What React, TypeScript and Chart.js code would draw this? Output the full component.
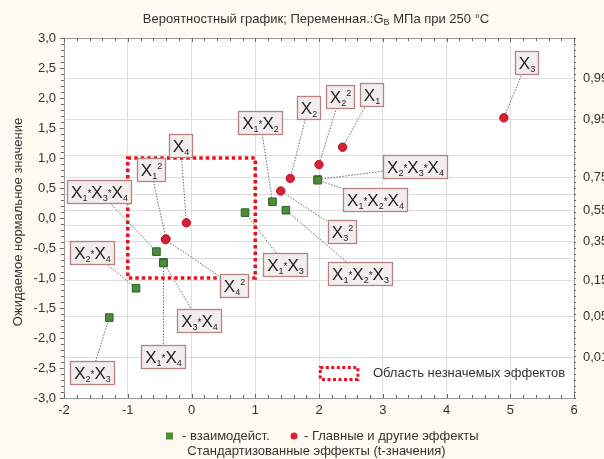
import React, { useEffect, useRef } from "react";
import { Chart, registerables } from "chart.js";

Chart.register(...registerables);

// ---------- texts ----------
const titleMain = "Вероятностный график; Переменная.:G";
const titleSub = "B";
const titleRest = " МПа при 250 °C";
const xAxisTitle = "Стандартизованные эффекты (t-значения)";
const yAxisTitle = "Ожидаемое нормальное значение";
const legendInteraction = "- взаимодейст.";
const legendMain = "- Главные и другие эффекты";
const regionLegend = "Область незначемых эффектов";

// ---------- axes ----------
const xMin = -2;
const xMax = 6;
const yMin = -3;
const yMax = 3;
const probLabels = [0.01, 0.05, 0.15, 0.35, 0.55, 0.75, 0.95, 0.99];
const probGrid = [0.01, 0.05, 0.15, 0.25, 0.35, 0.45, 0.55, 0.65, 0.75, 0.85, 0.95, 0.99];

// ---------- main & other effects (red circles) ----------
const mainNames = ["X_3", "X_1", "X_2^2", "X_2", "X_3^2", "X_4", "X_1^2", "X_4^2"];
const mainT = [4.9, 2.37, 2.0, 1.55, 1.4, -0.08, -0.4, -0.41];
const mainZ = [1.67, 1.18, 0.89, 0.66, 0.45, -0.08, -0.35, -0.36];
const mainLabelT = [5.26, 2.83, 2.33, 1.83, 2.36, -0.17, -0.64, 0.66];
const mainLabelZ = [2.6, 2.06, 2.03, 1.84, -0.22, 1.2, 0.81, -1.13];

// ---------- interactions (green squares) ----------
const interNames = [
  "X_2*X_3*X_4",
  "X_1*X_2*X_4",
  "X_1*X_2",
  "X_1*X_2*X_3",
  "X_1*X_3",
  "X_1*X_3*X_4",
  "X_3*X_4",
  "X_1*X_4",
  "X_2*X_4",
  "X_2*X_3",
];
const interT = [1.98, 1.98, 1.27, 1.48, 0.84, -0.55, -0.44, -0.44, -0.87, -1.29];
const interZ = [0.64, 0.63, 0.27, 0.13, 0.09, -0.56, -0.74, -0.75, -1.17, -1.66];
const interLabelT = [3.51, 2.88, 1.08, 2.64, 1.47, -1.45, 0.11, -0.44, -1.56, -1.56];
const interLabelZ = [0.85, 0.31, 1.6, -0.92, -0.78, 0.44, -1.71, -2.3, -0.57, -2.58];

// ---------- region of insignificant effects ----------
const regionT = [-1, 1];
const regionZ = [-1, 1];
const regionLegendT = [2.02, 2.61];
const regionLegendZ = [-2.49, -2.69];

// ---------- styles ----------
const CREAM = "#fdfaf1";
const FONT = '"Liberation Sans", Arial, sans-serif';
const TEXT = "#333333";
const GRID = "#dedede";
const RED = "#d91f34";
const RED_DARK = "#b3172a";
const GREEN = "#4d8a3c";
const GREEN_DARK = "#2f6626";
const REGION = "#e3141f";

// inverse of standard normal CDF (Acklam) - used for the probability axis
function probit(p: number): number {
  const a = [-39.6968302866538, 220.946098424521, -275.928510446969, 138.357751867269, -30.6647980661472, 2.50662827745924];
  const b = [-54.4760987982241, 161.585836858041, -155.698979859887, 66.8013118877197, -13.2806815528857];
  const c = [-0.00778489400243029, -0.322396458041136, -2.40075827716184, -2.54973253934373, 4.37466414146497, 2.93816398269878];
  const d = [0.00778469570904146, 0.32246712907004, 2.445134137143, 3.75440866190742];
  const pl = 0.02425;
  let q: number, r: number;
  if (p < pl) {
    q = Math.sqrt(-2 * Math.log(p));
    return (((((c[0] * q + c[1]) * q + c[2]) * q + c[3]) * q + c[4]) * q + c[5]) / ((((d[0] * q + d[1]) * q + d[2]) * q + d[3]) * q + 1);
  }
  if (p > 1 - pl) {
    q = Math.sqrt(-2 * Math.log(1 - p));
    return -(((((c[0] * q + c[1]) * q + c[2]) * q + c[3]) * q + c[4]) * q + c[5]) / ((((d[0] * q + d[1]) * q + d[2]) * q + d[3]) * q + 1);
  }
  q = p - 0.5;
  r = q * q;
  return ((((((a[0] * r + a[1]) * r + a[2]) * r + a[3]) * r + a[4]) * r + a[5]) * q) / (((((b[0] * r + b[1]) * r + b[2]) * r + b[3]) * r + b[4]) * r + 1);
}

type Tok = { t: string; k: "base" | "sub" | "sup" | "ast" };
function tokens(s: string): Tok[] {
  const out: Tok[] = [];
  for (let i = 0; i < s.length; i++) {
    const c = s[i];
    if (c === "_") out.push({ t: s[++i], k: "sub" });
    else if (c === "^") out.push({ t: s[++i], k: "sup" });
    else if (c === "*") out.push({ t: "*", k: "ast" });
    else out.push({ t: c, k: "base" });
  }
  return out;
}
const tokFont = (k: Tok["k"]) =>
  k === "base" ? `17px ${FONT}` : k === "ast" ? `10px ${FONT}` : `9px ${FONT}`;
const tokDy = (k: Tok["k"]) => (k === "sub" ? 3 : k === "sup" ? -7 : k === "ast" ? -1 : 0);

function drawEffectLabel(ctx: CanvasRenderingContext2D, s: string, cx: number, cy: number) {
  const toks = tokens(s);
  let w = 0;
  const widths: number[] = [];
  for (const t of toks) {
    ctx.font = tokFont(t.k);
    const tw = ctx.measureText(t.t).width;
    widths.push(tw);
    w += tw;
  }
  const bw = Math.round(w + 7);
  const bh = 23;
  const x0 = Math.round(cx - bw / 2) + 0.5;
  const y0 = Math.round(cy - bh / 2) + 0.5;
  ctx.save();
  ctx.setLineDash([]);
  ctx.fillStyle = "#f3eeee";
  ctx.strokeStyle = "#b88282";
  ctx.lineWidth = 1.3;
  ctx.fillRect(x0, y0, bw, bh);
  ctx.strokeRect(x0, y0, bw, bh);
  ctx.fillStyle = "#1e1e1e";
  ctx.textBaseline = "alphabetic";
  ctx.textAlign = "left";
  let x = x0 + (bw - w) / 2;
  const base = y0 + bh / 2 + 6.2;
  toks.forEach((t, i) => {
    ctx.font = tokFont(t.k);
    ctx.fillText(t.t, x, base + tokDy(t.k));
    x += widths[i];
  });
  ctx.restore();
}

const decor = {
  id: "decor",
  beforeDraw(chart: any) {
    const { ctx, chartArea: a, width, height } = chart;
    ctx.save();
    ctx.fillStyle = CREAM;
    ctx.fillRect(0, 0, width, height);
    ctx.fillStyle = "#ffffff";
    ctx.fillRect(a.left, a.top, a.right - a.left, a.bottom - a.top);
    ctx.restore();
  },
  beforeDatasetsDraw(chart: any) {
    const { ctx, chartArea: a } = chart;
    const xs = chart.scales.x;
    const ys = chart.scales.y;
    ctx.save();
    // plot border
    ctx.strokeStyle = "#9a9a9a";
    ctx.lineWidth = 1;
    ctx.strokeRect(Math.round(a.left) + 0.5, Math.round(a.top) + 0.5, Math.round(a.right - a.left), Math.round(a.bottom - a.top));
    // minor ticks
    ctx.strokeStyle = "#666";
    ctx.beginPath();
    for (let i = 0; i <= (xMax - xMin) * 5; i++) {
      const v = xMin + i * 0.2;
      const px = Math.round(xs.getPixelForValue(v)) + 0.5;
      const len = i % 5 === 0 ? 4 : 3;
      ctx.moveTo(px, a.bottom);
      ctx.lineTo(px, a.bottom - len);
      ctx.moveTo(px, a.top);
      ctx.lineTo(px, a.top + len);
    }
    for (let i = 0; i <= (yMax - yMin) * 10; i++) {
      const v = yMin + i * 0.1;
      const py = Math.round(ys.getPixelForValue(v)) + 0.5;
      const len = i % 5 === 0 ? 4 : 3;
      ctx.moveTo(a.left, py);
      ctx.lineTo(a.left - len, py);
      ctx.moveTo(a.right, py);
      ctx.lineTo(a.right + 2, py);
    }
    ctx.stroke();
    // region of insignificant effects
    ctx.strokeStyle = REGION;
    ctx.lineWidth = 3.5;
    ctx.setLineDash([3.5, 3]);
    const rx0 = xs.getPixelForValue(regionT[0]);
    const rx1 = xs.getPixelForValue(regionT[1]);
    const ry0 = ys.getPixelForValue(regionZ[1]);
    const ry1 = ys.getPixelForValue(regionZ[0]);
    ctx.strokeRect(rx0, ry0, rx1 - rx0, ry1 - ry0);
    // connectors
    ctx.strokeStyle = "#5a5a5a";
    ctx.lineWidth = 0.9;
    ctx.setLineDash([1.5, 1.5]);
    const conn = (t: number[], z: number[], lt: number[], lz: number[]) => {
      for (let i = 0; i < t.length; i++) {
        ctx.beginPath();
        ctx.moveTo(xs.getPixelForValue(lt[i]), ys.getPixelForValue(lz[i]));
        ctx.lineTo(xs.getPixelForValue(t[i]), ys.getPixelForValue(z[i]));
        ctx.stroke();
      }
    };
    conn(mainT, mainZ, mainLabelT, mainLabelZ);
    conn(interT, interZ, interLabelT, interLabelZ);
    ctx.restore();
  },
  afterDatasetsDraw(chart: any) {
    const { ctx } = chart;
    const xs = chart.scales.x;
    const ys = chart.scales.y;
    for (let i = 0; i < interNames.length; i++) {
      drawEffectLabel(ctx, interNames[i], xs.getPixelForValue(interLabelT[i]), ys.getPixelForValue(interLabelZ[i]));
    }
    for (let i = 0; i < mainNames.length; i++) {
      drawEffectLabel(ctx, mainNames[i], xs.getPixelForValue(mainLabelT[i]), ys.getPixelForValue(mainLabelZ[i]));
    }
    // region legend
    ctx.save();
    const lx0 = xs.getPixelForValue(regionLegendT[0]);
    const lx1 = xs.getPixelForValue(regionLegendT[1]);
    const ly0 = ys.getPixelForValue(regionLegendZ[0]);
    const ly1 = ys.getPixelForValue(regionLegendZ[1]);
    ctx.strokeStyle = REGION;
    ctx.lineWidth = 3;
    ctx.setLineDash([3, 2.5]);
    ctx.strokeRect(lx0, ly0, lx1 - lx0, ly1 - ly0);
    ctx.setLineDash([]);
    ctx.fillStyle = TEXT;
    ctx.font = `13px ${FONT}`;
    ctx.textBaseline = "middle";
    ctx.textAlign = "left";
    ctx.fillText(regionLegend, lx1 + 15, (ly0 + ly1) / 2);
    ctx.restore();
  },
  afterDraw(chart: any) {
    const { ctx } = chart;
    ctx.save();
    ctx.fillStyle = TEXT;
    ctx.textBaseline = "middle";
    // title
    ctx.font = `13px ${FONT}`;
    const w1 = ctx.measureText(titleMain).width;
    const w3 = ctx.measureText(titleRest).width;
    ctx.font = `9px ${FONT}`;
    const w2 = ctx.measureText(titleSub).width;
    const total = w1 + w2 + w3;
    const x = 316 - total / 2;
    ctx.textAlign = "left";
    ctx.font = `13px ${FONT}`;
    ctx.fillText(titleMain, x, 19);
    ctx.font = `9px ${FONT}`;
    ctx.fillText(titleSub, x + w1, 23);
    ctx.font = `13px ${FONT}`;
    ctx.fillText(titleRest, x + w1 + w2, 19);
    // x axis title
    ctx.textAlign = "center";
    ctx.fillText(xAxisTitle, 316.5, 451);
    // legend
    ctx.textAlign = "left";
    const gy = 436;
    ctx.fillStyle = GREEN;
    ctx.fillRect(166, gy - 3.5, 7, 7);
    ctx.fillStyle = TEXT;
    ctx.fillText(legendInteraction, 182, gy);
    ctx.fillStyle = RED;
    ctx.beginPath();
    ctx.arc(294, gy, 3.5, 0, Math.PI * 2);
    ctx.fill();
    ctx.fillStyle = TEXT;
    ctx.fillText(legendMain, 304, gy);
    // y axis title
    ctx.translate(18, 222);
    ctx.rotate(-Math.PI / 2);
    ctx.textAlign = "center";
    ctx.fillText(yAxisTitle, 0, 0);
    ctx.restore();
  },
};

export default function App() {
  const ref = useRef<HTMLCanvasElement>(null);
  useEffect(() => {
    const tickFont = { family: FONT, size: 13 };
    const chart = new Chart(ref.current!, {
      type: "scatter",
      data: {
        datasets: [
          {
            label: legendInteraction,
            data: interT.map((t, i) => ({ x: t, y: interZ[i] })),
            pointStyle: "rect",
            pointRadius: 5.4,
            backgroundColor: GREEN,
            borderColor: GREEN_DARK,
            borderWidth: 1,
          },
          {
            label: legendMain,
            data: mainT.map((t, i) => ({ x: t, y: mainZ[i] })),
            pointStyle: "circle",
            pointRadius: 4.2,
            backgroundColor: RED,
            borderColor: RED_DARK,
            borderWidth: 1,
          },
        ],
      },
      options: {
        responsive: false,
        animation: false,
        devicePixelRatio: 1,
        layout: { padding: { top: 38, left: 0, right: 0, bottom: 0 } },
        plugins: {
          legend: { display: false },
          title: { display: false },
          tooltip: { enabled: false },
        },
        scales: {
          x: {
            type: "linear",
            position: "bottom",
            min: xMin,
            max: xMax,
            afterFit: (s: any) => {
              s.height = 61;
            },
            ticks: {
              stepSize: 1,
              padding: 5,
              font: tickFont,
              color: TEXT,
              callback: (v: any) => String(v),
            },
            grid: { color: GRID, drawTicks: false },
            border: { display: false },
          },
          y: {
            type: "linear",
            position: "left",
            min: yMin,
            max: yMax,
            afterFit: (s: any) => {
              s.width = 64;
            },
            ticks: {
              stepSize: 0.5,
              padding: 8,
              font: tickFont,
              color: TEXT,
              callback: (v: any) => Number(v).toFixed(1).replace(".", ","),
            },
            grid: { display: false, drawTicks: false },
            border: { display: false },
          },
          y2: {
            type: "linear",
            position: "right",
            min: yMin,
            max: yMax,
            afterFit: (s: any) => {
              s.width = 30;
            },
            afterBuildTicks: (s: any) => {
              s.ticks = probGrid.map((p) => ({ value: probit(p) }));
            },
            ticks: {
              autoSkip: false,
              padding: 9,
              font: tickFont,
              color: TEXT,
              callback: (_v: any, i: number) => {
                const p = probGrid[i];
                return probLabels.includes(p) ? p.toFixed(2).replace(".", ",") : "";
              },
            },
            grid: { color: GRID, drawTicks: false },
            border: { display: false },
          },
        },
      },
      plugins: [decor],
    } as any);
    return () => chart.destroy();
  }, []);
  return (
    <div style={{ position: "fixed", left: 0, top: 0, width: 604, height: 459, background: CREAM }}>
      <canvas ref={ref} width={604} height={459} style={{ display: "block", width: 604, height: 459 }} />
    </div>
  );
}
